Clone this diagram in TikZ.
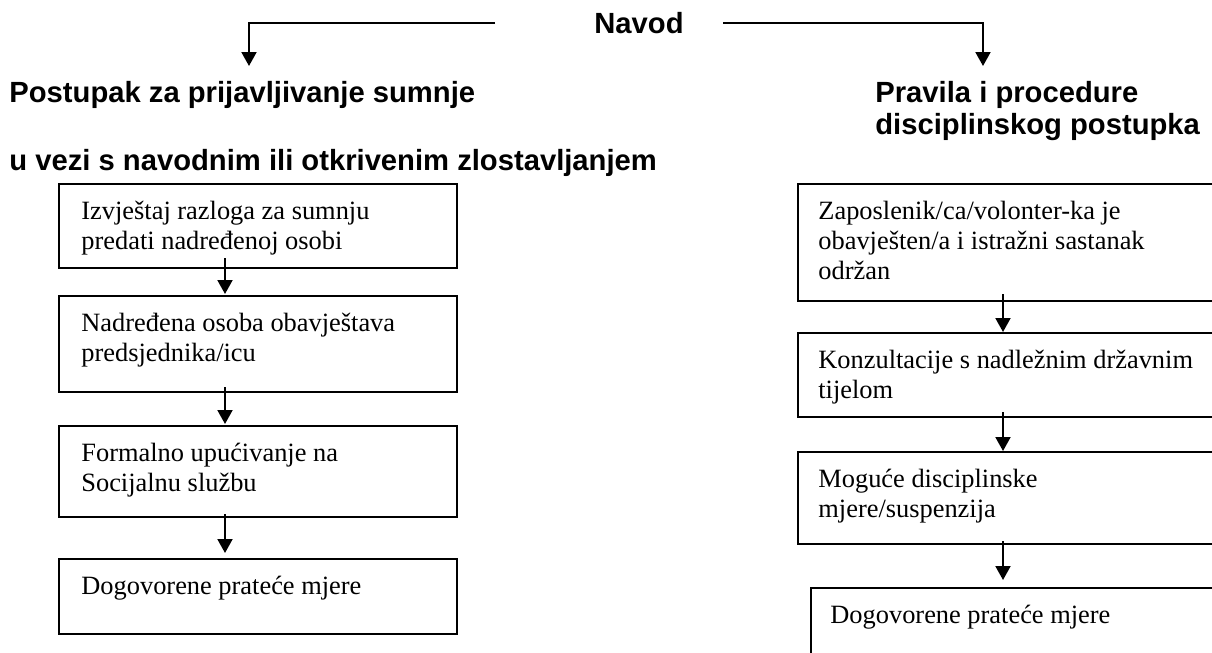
\documentclass[tikz,border=0pt]{standalone}
\usepackage{fontspec}
\setmainfont{Liberation Serif}
\newfontfamily\headfont{Liberation Sans}
\usetikzlibrary{arrows.meta,calc}
\tikzset{
  head/.style={font=\headfont\bfseries\fontsize{14.6pt}{15.5pt}\selectfont, inner sep=0pt, anchor=base west},
  stepbox/.style={draw, line width=1pt, anchor=north west, inner sep=0pt},
  steptext/.style={font=\fontsize{13.2pt}{15pt}\selectfont, align=left, anchor=north west, inner sep=0pt},
  arr/.style={line width=1pt, -{Triangle[width=7.5pt,length=7pt]}}
}
\begin{document}
\begin{tikzpicture}[x=0.5pt, y=-0.5pt]
  \useasboundingbox (0,0) rectangle (1212,653);
  \clip (0,0) rectangle (1212,653);
  \node[head] (navod) at (594,33) {Navod};
  \node[head] (lhead1) at (9,102) {Postupak za prijavljivanje sumnje};
  \node[head] (lhead2) at (9,170) {u vezi s navodnim ili otkrivenim zlostavljanjem};
  \node[head] (rhead1) at (875,102) {Pravila i procedure};
  \node[head] (rhead2) at (875,134) {disciplinskog postupka};
  \coordinate (ltip) at (249,66);
  \coordinate (rtip) at (983,66);
  \draw[arr] ([xshift=-49.5pt]navod.west) -| (ltip);
  \draw[arr] ([xshift=19.5pt]navod.east) -| (rtip);
  % left column
  \foreach \name/\y/\h in {lb1/183/42pt, lb2/295/48pt, lb3/425/45.5pt, lb4/558/37.5pt}
    \node[stepbox, minimum width=199pt, minimum height=\h] (\name) at (58,\y) {};
  \node[steptext] (lt1) at ($(lb1.north west)+(23,15)$) {\strut Izvještaj razloga za sumnju\\predati nadređenoj osobi};
  \node[steptext] (lt2) at ($(lb2.north west)+(23,15)$) {\strut Nadređena osoba obavještava\\predsjednika/icu};
  \node[steptext] (lt3) at ($(lb3.north west)+(23,15)$) {\strut Formalno upućivanje na\\Socijalnu službu};
  \node[steptext] (lt4) at ($(lb4.north west)+(23,15)$) {\strut Dogovorene prateće mjere};
  % right column
  \foreach \name/\x/\y/\h in {rb1/797/183/58.5pt, rb2/797/332/42pt, rb3/797/451/46pt, rb4/810/587/50pt}
    \node[stepbox, minimum width=225pt, minimum height=\h] (\name) at (\x,\y) {};
  \node[steptext] (rt1) at ($(rb1.north west)+(21,15)$) {\strut Zaposlenik/ca/volonter-ka je\\obavješten/a i istražni sastanak\\održan};
  \node[steptext] (rt2) at ($(rb2.north west)+(21,15)$) {\strut Konzultacije s nadležnim državnim\\tijelom};
  \node[steptext] (rt3) at ($(rb3.north west)+(21,15)$) {\strut Moguće disciplinske\\mjere/suspenzija};
  \node[steptext] (rt4) at ($(rb4.north west)+(20,15)$) {\strut Dogovorene prateće mjere};
  \foreach \a/\b/\dxa/\dxb/\up/\gap in {lb1/lb2/167/167/11/1, lb2/lb3/167/167/6/1, lb3/lb4/167/167/4/5,
      rb1/rb2/206/206/8/0, rb2/rb3/206/206/6/0, rb3/rb4/206/193/4/7}
    \draw[arr] ($(\a.south west)+(\dxa,-\up)$) -- ($(\b.north west)+(\dxb,-\gap)$);
\end{tikzpicture}
\end{document}
